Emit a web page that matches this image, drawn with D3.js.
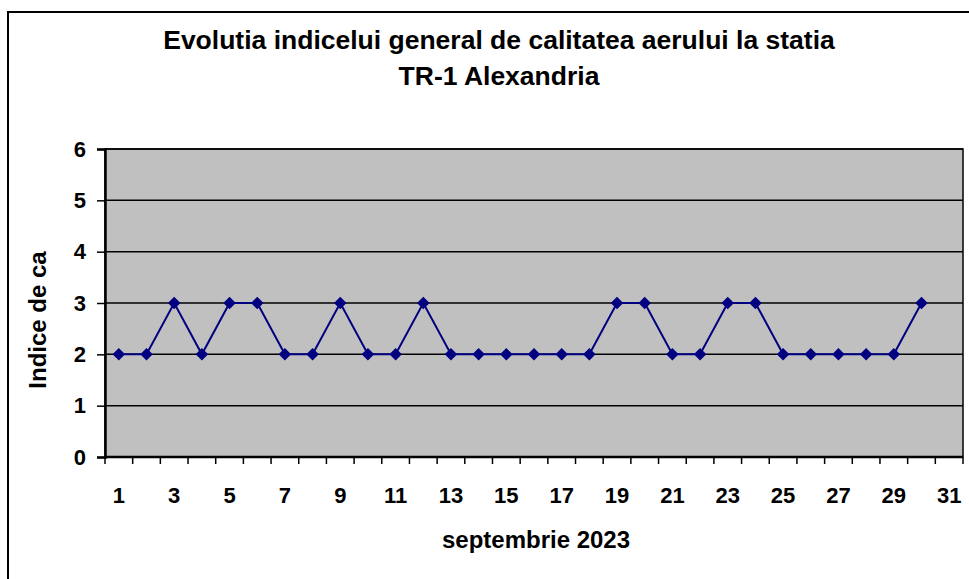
<!DOCTYPE html>
<html>
<head>
<meta charset="utf-8">
<script src="https://cdn.jsdelivr.net/npm/d3@7"></script>
<style>
  body { margin: 0; background: #fff; }
  text { font-family: "Liberation Sans", Arial, sans-serif; font-weight: bold; fill: #000; }
</style>
</head>
<body>
<svg width="969" height="579"></svg>
<script>
const days = d3.range(1, 32).map(String);
const values = [2, 2, 3, 2, 3, 3, 2, 2, 3, 2, 2, 3, 2, 2, 2, 2, 2, 2, 3, 3, 2, 2, 3, 3, 2, 2, 2, 2, 2, 3];
const yTicks = [0, 1, 2, 3, 4, 5, 6];
const titleLines = ["Evolutia indicelui general de calitatea aerului la statia", "TR-1 Alexandria"];
const xTitle = "septembrie 2023";
const yTitle = "Indice de ca";

const plot = { left: 105, right: 963, top: 149, bottom: 457 };

const svg = d3.select("svg");

// outer chart border
svg.append("rect")
  .attr("x", 8).attr("y", 12)
  .attr("width", 975).attr("height", 590)
  .attr("fill", "#fff")
  .attr("stroke", "#000")
  .attr("stroke-width", 2);

const x = d3.scaleBand()
  .domain(days)
  .range([plot.left, plot.right]);

const y = d3.scaleLinear()
  .domain([0, 6])
  .range([plot.bottom, plot.top]);

// plot area
svg.append("rect")
  .attr("x", plot.left).attr("y", plot.top)
  .attr("width", plot.right - plot.left).attr("height", plot.bottom - plot.top)
  .attr("fill", "#c0c0c0")
  .attr("stroke", "#000")
  .attr("stroke-width", 1.5);

// gridlines
svg.append("g")
  .selectAll("line")
  .data(yTicks.slice(1))
  .enter()
  .append("line")
  .attr("x1", plot.left).attr("x2", plot.right)
  .attr("y1", d => y(d)).attr("y2", d => y(d))
  .attr("stroke", "#000")
  .attr("stroke-width", 1.5);

// Y axis
const yAxis = svg.append("g")
  .attr("transform", `translate(${plot.left},0)`)
  .call(d3.axisLeft(y).tickValues(yTicks).tickFormat(d3.format("d")).tickSize(8).tickPadding(11));
yAxis.select(".domain").attr("stroke-width", 2.5);
yAxis.selectAll(".tick line").attr("stroke-width", 1.5);
yAxis.selectAll("text")
  .style("font-size", "22px")
  .style("font-family", "Liberation Sans, Arial, sans-serif")
  .style("font-weight", "bold");

// X axis: ticks at category boundaries, labels on odd days
const xAxis = svg.append("g")
  .attr("transform", `translate(0,${plot.bottom})`);
xAxis.append("line")
  .attr("x1", plot.left).attr("x2", plot.right)
  .attr("stroke", "#000").attr("stroke-width", 2.5);
xAxis.selectAll(".tk")
  .data(days.concat(["end"]))
  .enter()
  .append("line")
  .attr("class", "tk")
  .attr("x1", d => d === "end" ? plot.right : x(d))
  .attr("x2", d => d === "end" ? plot.right : x(d))
  .attr("y1", 0).attr("y2", 7)
  .attr("stroke", "#000").attr("stroke-width", 1.5);
xAxis.selectAll(".lbl")
  .data(days.filter(d => +d % 2 === 1))
  .enter()
  .append("text")
  .attr("class", "lbl")
  .attr("x", d => x(d) + x.bandwidth() / 2)
  .attr("y", 46)
  .attr("text-anchor", "middle")
  .style("font-size", "22px")
  .text(d => d);

// line + markers
const pts = values.map((v, i) => ({ day: days[i], value: v }));
const line = d3.line()
  .x(d => x(d.day) + x.bandwidth() / 2)
  .y(d => y(d.value));

svg.append("path")
  .datum(pts)
  .attr("d", line)
  .attr("fill", "none")
  .attr("stroke", "#000080")
  .attr("stroke-width", 2);

svg.selectAll(".pt")
  .data(pts)
  .enter()
  .append("path")
  .attr("class", "pt")
  .attr("d", d3.symbol().type(d3.symbolDiamond2).size(100))
  .attr("transform", d => `translate(${x(d.day) + x.bandwidth() / 2},${y(d.value)})`)
  .attr("fill", "#000080");

// titles
svg.selectAll(".title")
  .data(titleLines)
  .enter()
  .append("text")
  .attr("class", "title")
  .attr("x", 499)
  .attr("y", (d, i) => 49 + i * 36)
  .attr("text-anchor", "middle")
  .style("font-size", "26.5px")
  .text(d => d);

svg.append("text")
  .attr("x", 536).attr("y", 548)
  .attr("text-anchor", "middle")
  .style("font-size", "24px")
  .text(xTitle);

svg.append("text")
  .attr("transform", "translate(46,320) rotate(-90)")
  .attr("text-anchor", "middle")
  .style("font-size", "24px")
  .text(yTitle);
</script>
</body>
</html>
